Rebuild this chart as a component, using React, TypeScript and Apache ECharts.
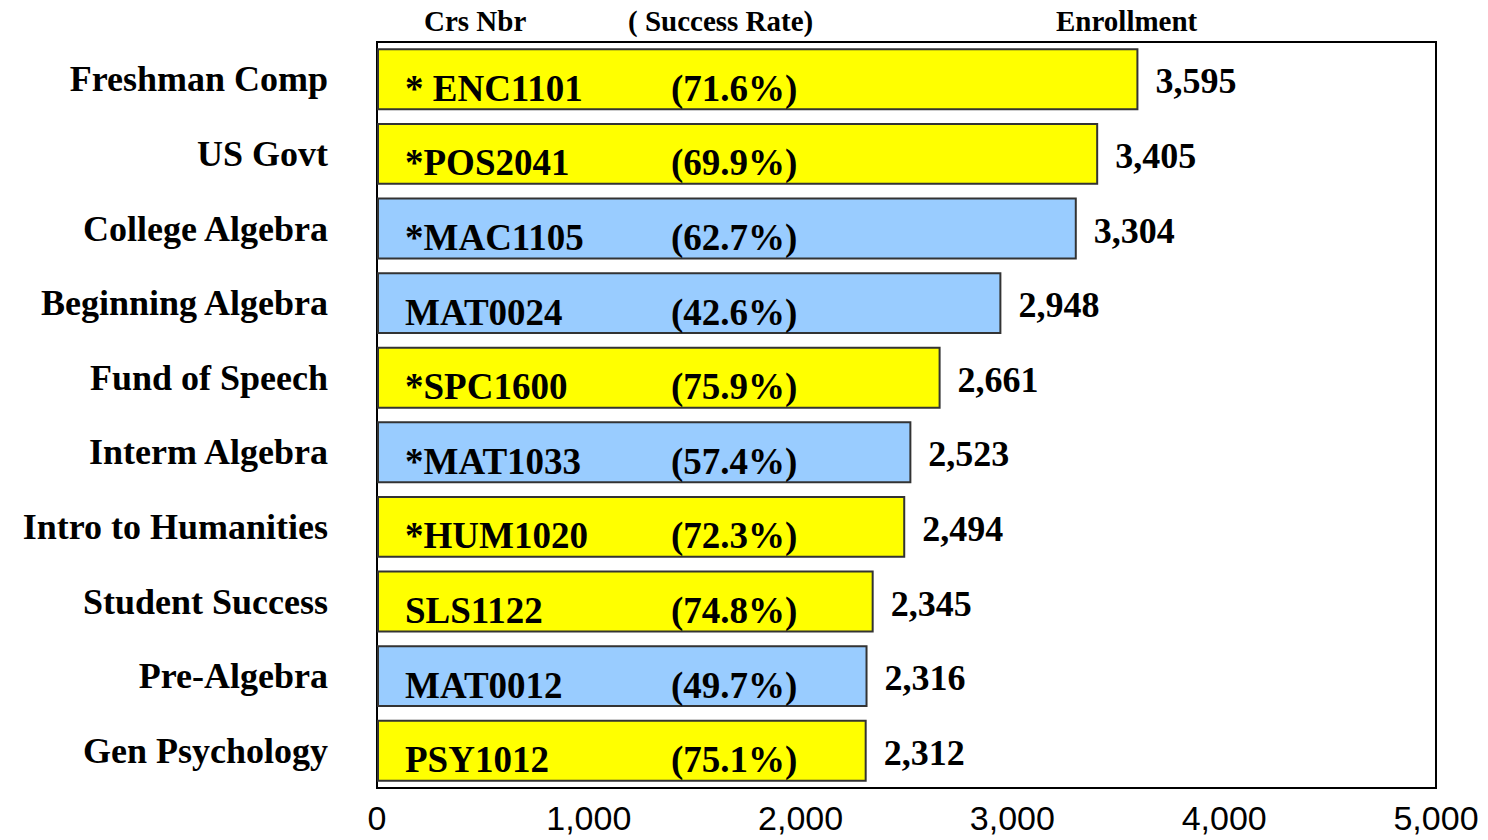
import React, { useEffect, useRef } from "react";
import * as echarts from "echarts";

const categories = [
  "Freshman Comp",
  "US Govt",
  "College Algebra",
  "Beginning Algebra",
  "Fund of Speech",
  "Interm Algebra",
  "Intro to Humanities",
  "Student Success",
  "Pre-Algebra",
  "Gen Psychology",
];
const courseCodes = [
  "* ENC1101",
  "*POS2041",
  "*MAC1105",
  "MAT0024",
  "*SPC1600",
  "*MAT1033",
  "*HUM1020",
  "SLS1122",
  "MAT0012",
  "PSY1012",
];
const successRates = [71.6, 69.9, 62.7, 42.6, 75.9, 57.4, 72.3, 74.8, 49.7, 75.1];
const enrollment = [3595, 3405, 3304, 2948, 2661, 2523, 2494, 2345, 2316, 2312];
const isMath = [false, false, true, true, false, true, false, false, true, false];
const xTicks = [0, 1000, 2000, 3000, 4000, 5000];

const SERIF = "'Liberation Serif', 'Times New Roman', serif";
const SANS = "'Liberation Sans', Arial, sans-serif";
const fmt = (v: number) => v.toLocaleString("en-US");

export default function App() {
  const ref = useRef<HTMLDivElement>(null);
  useEffect(() => {
    if (!ref.current) return;
    const chart = echarts.init(ref.current, null, { renderer: "svg" });
    chart.setOption({
      animation: false,
      backgroundColor: "#ffffff",
      grid: {
        left: 377,
        right: 52,
        top: 42,
        bottom: 52,
        show: true,
        borderColor: "#000",
        borderWidth: 2,
        containLabel: false,
      },
      xAxis: {
        type: "value",
        min: xTicks[0],
        max: xTicks[xTicks.length - 1],
        interval: 1000,
        axisLine: { show: false },
        axisTick: { show: false },
        splitLine: { show: false },
        axisLabel: {
          margin: 13,
          fontFamily: SANS,
          fontSize: 34,
          color: "#000",
          formatter: (v: number) => fmt(v),
        },
      },
      yAxis: {
        type: "category",
        inverse: true,
        data: categories,
        axisLine: { show: false },
        axisTick: { show: false },
        axisLabel: {
          margin: 49,
          fontFamily: SERIF,
          fontWeight: "bold",
          fontSize: 36,
          color: "#000",
        },
      },
      graphic: [
        { type: "text", left: 424, top: 6, style: { text: "Crs Nbr", font: `bold 29px ${SERIF}`, fill: "#000" } },
        { type: "text", left: 628, top: 6, style: { text: "( Success Rate)", font: `bold 29px ${SERIF}`, fill: "#000" } },
        { type: "text", left: 1056, top: 6, style: { text: "Enrollment", font: `bold 29px ${SERIF}`, fill: "#000" } },
      ],
      series: [
        {
          type: "bar",
          barCategoryGap: "17%",
          data: enrollment.map((v, i) => ({
            value: v,
            itemStyle: { color: isMath[i] ? "#99CCFF" : "#FFFF00" },
          })),
          itemStyle: { borderColor: "#333", borderWidth: 2 },
          label: {
            show: true,
            position: "insideLeft",
            distance: 28,
            offset: [0, 9],
            formatter: (p: any) =>
              `{c|${courseCodes[p.dataIndex]}}{r|(${successRates[p.dataIndex].toFixed(1)}%)}`,
            rich: {
              c: { width: 266, fontFamily: SERIF, fontWeight: "bold", fontSize: 37, color: "#000" },
              r: { fontFamily: SERIF, fontWeight: "bold", fontSize: 37, color: "#000" },
            },
          },
          z: 2,
        },
        {
          type: "bar",
          barGap: "-100%",
          barCategoryGap: "17%",
          silent: true,
          data: enrollment,
          itemStyle: { color: "transparent" },
          label: {
            show: true,
            position: "right",
            distance: 17,
            offset: [0, 2],
            fontFamily: SERIF,
            fontWeight: "bold",
            fontSize: 36,
            color: "#000",
            formatter: (p: any) => fmt(p.value),
          },
          z: 1,
        },
      ],
    });
    return () => chart.dispose();
  }, []);
  return (
    <div
      ref={ref}
      style={{ position: "fixed", left: 0, top: 0, width: 1488, height: 840 }}
    />
  );
}
